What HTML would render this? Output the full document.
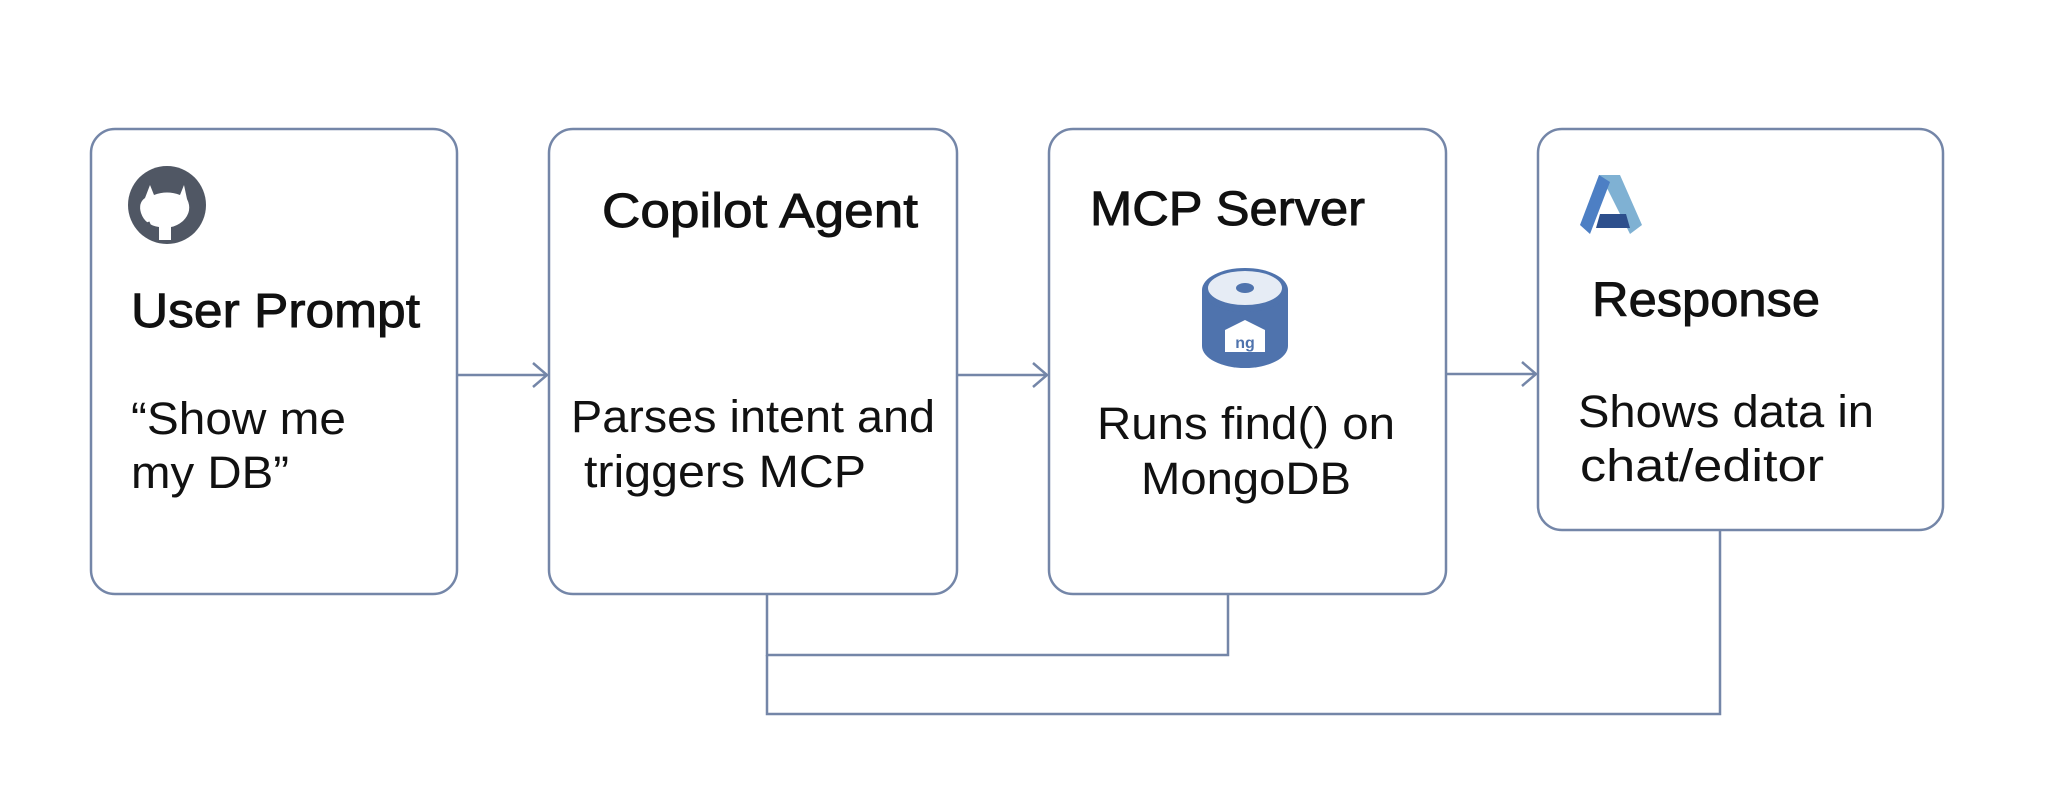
<!DOCTYPE html>
<html><head><meta charset="utf-8"><style>
html,body{margin:0;padding:0;background:#fff;}
svg{display:block;}
text{font-family:"Liberation Sans",Arial,sans-serif;fill:#111;}
.t{font-size:48px;stroke:#111;stroke-width:0.9px;}
.b{font-size:45px;}
</style></head><body>
<svg width="2048" height="811" viewBox="0 0 2048 811" xmlns="http://www.w3.org/2000/svg">
<rect width="2048" height="811" fill="#fff"/>
<g fill="none" stroke="#7486a8" stroke-width="2.5">
<rect x="91" y="129" width="366" height="465" rx="24"/>
<rect x="549" y="129" width="408" height="465" rx="24"/>
<rect x="1049" y="129" width="397" height="465" rx="24"/>
<rect x="1538" y="129" width="405" height="401" rx="24"/>
<line x1="457" y1="375" x2="547" y2="375"/>
<polyline points="533,363 547,375 533,387"/>
<line x1="957" y1="375" x2="1047" y2="375"/>
<polyline points="1033,363 1047,375 1033,387"/>
<line x1="1446" y1="374" x2="1536" y2="374"/>
<polyline points="1522,362 1536,374 1522,386"/>
<polyline points="767,594 767,655 1228,655 1228,594"/>
<polyline points="767,655 767,714 1720,714 1720,530"/>
</g>
<circle cx="167" cy="205" r="39" fill="#505764"/>
<path d="M150,185 l4,10 q13,-5 26,0 l4,-10 l3,14 q6,12 -4,22 q-6,5 -12,6 l0,13 l-12,0 l0,-13 q-14,-2 -18,-14 q-3,-10 4,-15 z" fill="#fff"/>
<path d="M148,222 q4,10 8,14" stroke="#505764" stroke-width="3" fill="none"/>
<path d="M1202,290 v56 a43,22 0 0 0 86,0 v-56 z" fill="#4f73ad"/>
<ellipse cx="1245" cy="290" rx="43" ry="22" fill="#4f73ad"/>
<ellipse cx="1245" cy="288" rx="37" ry="17" fill="#e6ecf5"/>
<ellipse cx="1245" cy="288" rx="9" ry="5" fill="#4f73ad"/>
<path d="M1225,330 l20,-10 l20,10 v22 h-40 z" fill="#fff"/>
<text x="1245" y="348" font-size="16" text-anchor="middle" style="fill:#4f73ad;font-weight:bold">ng</text>
<polygon points="1599,175 1620,175 1642,225 1630,234 1608,190" fill="#7fb1d3"/>
<polygon points="1599,175 1610,182 1590,234 1580,225" fill="#4d7fc4"/>
<polygon points="1600,214 1626,214 1630,228 1596,228" fill="#2d4f8c"/>
<text class="t" x="131" y="327" textLength="289" lengthAdjust="spacingAndGlyphs">User Prompt</text>
<text class="b" x="131" y="434" textLength="215" lengthAdjust="spacingAndGlyphs">“Show me</text>
<text class="b" x="131" y="488" textLength="158" lengthAdjust="spacingAndGlyphs">my DB”</text>
<text class="t" x="602" y="227" textLength="316" lengthAdjust="spacingAndGlyphs">Copilot Agent</text>
<text class="b" x="571" y="432" textLength="364" lengthAdjust="spacingAndGlyphs">Parses intent and</text>
<text class="b" x="584" y="487" textLength="282" lengthAdjust="spacingAndGlyphs">triggers MCP</text>
<text class="t" x="1090" y="225" textLength="275" lengthAdjust="spacingAndGlyphs">MCP Server</text>
<text class="b" x="1246" y="439" text-anchor="middle" textLength="298" lengthAdjust="spacingAndGlyphs">Runs find() on</text>
<text class="b" x="1246" y="494" text-anchor="middle" textLength="210" lengthAdjust="spacingAndGlyphs">MongoDB</text>
<text class="t" x="1592" y="316" textLength="228" lengthAdjust="spacingAndGlyphs">Response</text>
<text class="b" x="1578" y="427" textLength="296" lengthAdjust="spacingAndGlyphs">Shows data in</text>
<text class="b" x="1580" y="481" textLength="244" lengthAdjust="spacingAndGlyphs">chat/editor</text>
</svg>
</body></html>
